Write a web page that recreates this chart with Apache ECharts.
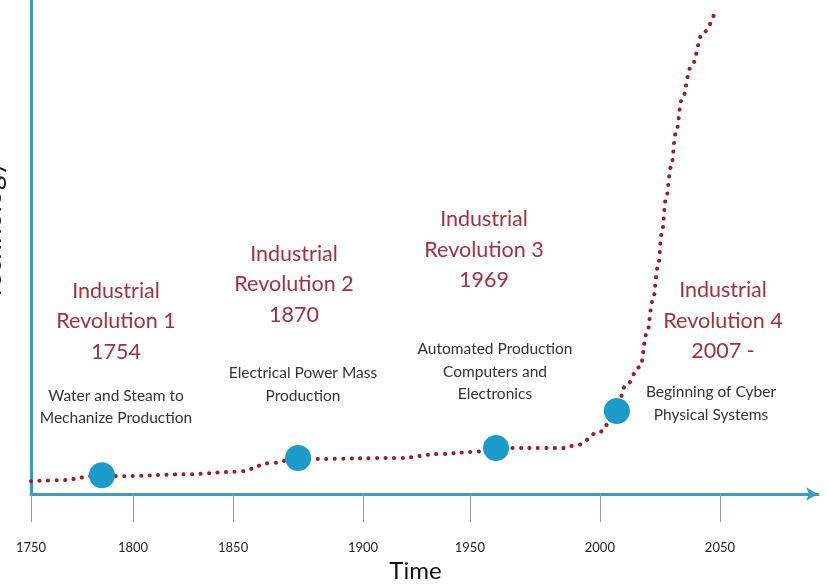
<!DOCTYPE html>
<html>
<head>
<meta charset="utf-8">
<script src="https://cdn.jsdelivr.net/npm/echarts@6/dist/echarts.min.js"></script>
<style>html,body{margin:0;padding:0;background:#fff}#c{width:827px;height:585px}</style>
</head>
<body>
<div id="c"></div>
<script>
// Tick labels and the (drawn) positions where they sit on the time axis
var tickLabels = ['1750', '1800', '1850', '1900', '1950', '2000', '2050'];
var tickPositions = [1750, 1794.4, 1838.0, 1894.6, 1941.1, 1997.7, 2050];

// Technology curve (drawn position on time axis, technology level 0-100)
var curveX = [1750, 1762.6, 1780.9, 1788.8, 1817.9, 1839.7, 1855.4, 1866.3, 1872.8, 1910.7, 1928.1, 1942.4, 1952.5, 1981.6, 1987.7, 1997.7, 2005.1, 2008.6, 2015.2, 2018.2, 2020.8, 2023.0, 2024.7, 2026.4, 2028.7, 2030.8, 2033.4, 2037.4, 2042.6, 2047.4];
var curveY = [2.6, 2.8, 3.8, 3.6, 4.0, 4.5, 6.3, 7.3, 7.1, 7.3, 8.1, 8.5, 9.3, 9.3, 9.9, 12.6, 16.8, 21.7, 25.7, 32.6, 39.3, 46.0, 52.8, 59.5, 66.2, 73.1, 79.8, 86.4, 93.3, 97.0];

// Revolution markers
var revX = [1780.9, 1866.3, 1952.5, 2005.1];
var revY = [3.8, 7.3, 9.3, 16.8];
var revTitles = ['Industrial\nRevolution 1\n1754', 'Industrial\nRevolution 2\n1870', 'Industrial\nRevolution 3\n1969', 'Industrial\nRevolution 4\n2007 -'];
var revNotes = ['Water and Steam to\nMechanize Production', 'Electrical Power Mass\nProduction', 'Automated Production\nComputers and\nElectronics', 'Beginning of Cyber\nPhysical Systems'];

var titlePos = [[116, 321.5], [294, 284.5], [484, 250], [723, 321]];
var notePos = [[116, 407], [303, 384.5], [495, 371.5], [711, 403.5]];

var curveData = curveX.map(function (x, i) { return [x, curveY[i]]; });
var revData = revX.map(function (x, i) { return [x, revY[i]]; });

var graphics = [];
revTitles.forEach(function (t, i) {
  graphics.push({
    type: 'text', x: titlePos[i][0], y: titlePos[i][1], z: 10,
    style: { text: t, align: 'center', verticalAlign: 'middle', fontFamily: 'Lato', fontSize: 21.5, lineHeight: 30.5, fill: '#a5303a' }
  });
  graphics.push({
    type: 'text', x: notePos[i][0], y: notePos[i][1], z: 10,
    style: { text: revNotes[i], align: 'center', verticalAlign: 'middle', fontFamily: 'Lato', fontSize: 15.5, lineHeight: 22.5, fill: '#333333' }
  });
});

var chart = echarts.init(document.getElementById('c'));
chart.setOption({
  animation: false,
  backgroundColor: '#ffffff',
  grid: { left: 31, right: 9, top: 0, bottom: 91, containLabel: false, outerBoundsMode: 'none' },
  xAxis: {
    type: 'value', min: 1750, max: 2092.7,
    name: 'Time', nameLocation: 'middle', nameGap: 64,
    nameTextStyle: { fontFamily: 'Lato', fontSize: 24, color: '#111', padding: [0, 18, 0, 0] },
    axisLine: { show: true, lineStyle: { color: '#3a9cc6', width: 3 }, symbol: ['none', 'arrow'], symbolSize: [10, 12] },
    axisTick: { show: true, customValues: tickPositions, length: 28, lineStyle: { color: '#8d9bab', width: 1 } },
    axisLabel: {
      show: true, customValues: tickPositions, margin: 47,
      fontFamily: 'Lato', fontSize: 13, color: '#222',
      formatter: function (v) {
        var idx = tickPositions.indexOf(v);
        return idx >= 0 ? tickLabels[idx] : '';
      }
    },
    splitLine: { show: false }
  },
  yAxis: {
    type: 'value', min: 0, max: 100,
    name: 'Technology', nameLocation: 'middle', nameRotate: 90, nameGap: 25.5,
    nameTextStyle: { fontFamily: 'Lato', fontSize: 28, color: '#222', padding: [0, 0, 0, 32] },
    axisLine: { show: true, lineStyle: { color: '#3a9cc6', width: 3 } },
    axisTick: { show: false }, axisLabel: { show: false }, splitLine: { show: false }
  },
  series: [
    {
      type: 'line', data: curveData, smooth: 0.4, smoothMonotone: 'x', showSymbol: false, z: 2,
      lineStyle: { color: '#9b1c27', width: 4, type: [0.1, 8.4], cap: 'round' }
    },
    {
      type: 'scatter', data: revData, symbol: 'circle', symbolSize: 26, z: 5,
      itemStyle: { color: '#1a9bca', opacity: 1 }
    }
  ],
  graphic: graphics
});
</script>
</body>
</html>
